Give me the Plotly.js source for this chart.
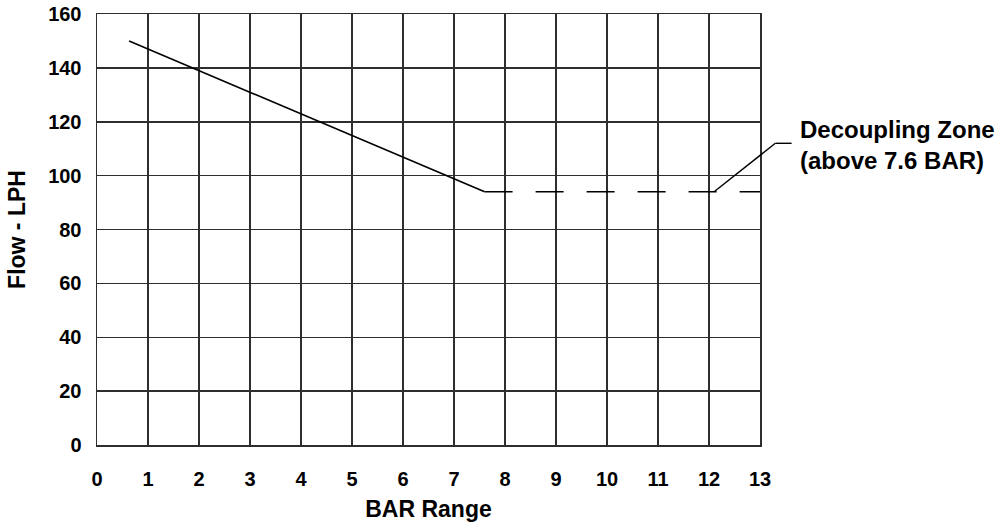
<!DOCTYPE html>
<html>
<head>
<meta charset="utf-8">
<script src="https://cdn.plot.ly/plotly-3.0.1.min.js"></script>
<style>
html,body{margin:0;padding:0;background:#fff;}
#chart{width:1000px;height:529px;}
</style>
</head>
<body>
<div id="chart"></div>
<script>
// Data
var xRange = [0, 13];
var yRange = [0, 160];
var xTicks = [0,1,2,3,4,5,6,7,8,9,10,11,12,13];
var yTicks = [0,20,40,60,80,100,120,140,160];

var flowX = [0.63, 7.6];
var flowY = [150, 94];

var decoupleX = [7.6, 13];
var decoupleY = [94, 94];

// Leader line of the note (data units)
var leaderX = [12.1, 13.3, 13.62];
var leaderY = [94, 112, 112];

var noteText = "Decoupling Zone<br>(above 7.6 BAR)";
var xTitle = "BAR Range";
var yTitle = "Flow - LPH";

function px(v){ return (v - xRange[0]) / (xRange[1] - xRange[0]); }
function py(v){ return (v - yRange[0]) / (yRange[1] - yRange[0]); }

var FONT = "Liberation Sans, Arial, sans-serif";
var gridCol = "#2e2e2e";

var traces = [
  {x: flowX, y: flowY, mode: "lines", line: {color: "#000", width: 1.6}, hoverinfo: "skip", showlegend: false},
  {x: decoupleX, y: decoupleY, mode: "lines", line: {color: "#000", width: 1.6, dash: "28px,23px"}, hoverinfo: "skip", showlegend: false}
];

var shapes = [];
for (var i = 0; i < leaderX.length - 1; i++) {
  shapes.push({type: "line", xref: "paper", yref: "paper",
    x0: px(leaderX[i]), y0: py(leaderY[i]), x1: px(leaderX[i+1]), y1: py(leaderY[i+1]),
    line: {color: "#000", width: 1.4}});
}

var layout = {
  width: 1000, height: 529,
  margin: {l: 97, r: 240, t: 14, b: 84},
  paper_bgcolor: "#fff", plot_bgcolor: "#fff",
  font: {family: FONT, color: "#000"},
  xaxis: {
    range: xRange, tickvals: xTicks, ticktext: xTicks.map(String),
    showgrid: true, gridcolor: gridCol, gridwidth: 1.5,
    showline: true, linecolor: gridCol, linewidth: 1.5, mirror: true,
    zeroline: false, ticks: "", ticklabelstandoff: 15,
    tickfont: {family: FONT, size: 20, weight: 700, color: "#000"},
    title: {text: xTitle, font: {family: FONT, size: 23, weight: 700, color: "#000"}, standoff: 12},
    automargin: false, fixedrange: true
  },
  yaxis: {
    range: yRange, tickvals: yTicks, ticktext: yTicks.map(String),
    showgrid: true, gridcolor: gridCol, gridwidth: 1.5,
    showline: true, linecolor: gridCol, linewidth: 1.5, mirror: true,
    zeroline: false, ticks: "", ticklabelstandoff: 10,
    tickfont: {family: FONT, size: 20, weight: 700, color: "#000"},
    title: {text: yTitle, font: {family: FONT, size: 23, weight: 700, color: "#000"}, standoff: 16},
    automargin: false, fixedrange: true
  },
  shapes: shapes,
  annotations: [{
    xref: "paper", yref: "paper", x: 1.057, y: 0.697,
    xanchor: "left", yanchor: "middle", align: "left",
    text: noteText, showarrow: false,
    font: {family: FONT, size: 24, weight: 700, color: "#000"}
  }],
  showlegend: false
};

Plotly.newPlot("chart", traces, layout, {staticPlot: true, displayModeBar: false});
</script>
</body>
</html>
